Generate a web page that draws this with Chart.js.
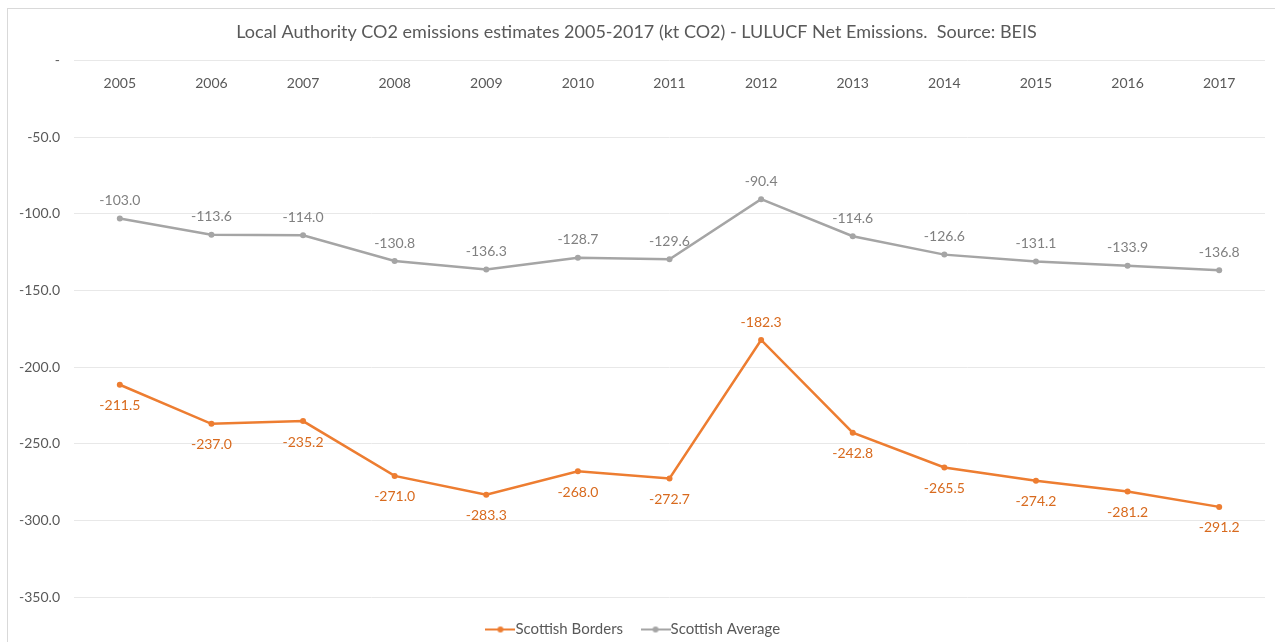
<!DOCTYPE html>
<html>
<head>
<meta charset="utf-8">
<script src="https://cdn.jsdelivr.net/npm/chart.js@4"></script>
<style>
  html, body { margin: 0; padding: 0; background: #fff; }
  #wrap { width: 1275px; height: 642px; }
</style>
</head>
<body>
<div id="wrap"><canvas id="co2Chart" width="1275" height="642"></canvas></div>
<script>
const years = ['2005','2006','2007','2008','2009','2010','2011','2012','2013','2014','2015','2016','2017'];
const bordersValues = [-211.5, -237.0, -235.2, -271.0, -283.3, -268.0, -272.7, -182.3, -242.8, -265.5, -274.2, -281.2, -291.2];
const averageValues = [-103.0, -113.6, -114.0, -130.8, -136.3, -128.7, -129.6, -90.4, -114.6, -126.6, -131.1, -133.9, -136.8];
const yTicks = [0, -50, -100, -150, -200, -250, -300, -350];

const orange = '#ED7D31';
const grey = '#A5A5A5';
const font = 'Lato, "Open Sans", sans-serif';

// legend marker: short line with a dot in the middle
function legendMarker(color){
    const c = document.createElement('canvas');
    c.width = 30; c.height = 10;
    const g = c.getContext('2d');
    g.strokeStyle = color; g.lineWidth = 2;
    g.beginPath(); g.moveTo(0, 5); g.lineTo(30, 5); g.stroke();
    g.fillStyle = color;
    g.beginPath(); g.arc(15, 5, 3, 0, Math.PI * 2); g.fill();
    return c;
}

// draws the value next to each point
const pointLabels = {
    id: 'pointLabels',
    afterDatasetsDraw(chart){
        const ctx = chart.ctx;
        ctx.save();
        ctx.font = '14px ' + font;
        ctx.textAlign = 'center';
        ctx.textBaseline = 'middle';
        chart.data.datasets.forEach((ds, i) => {
            const meta = chart.getDatasetMeta(i);
            const top = Math.max(...ds.data);
            meta.data.forEach((pt, j) => {
                const v = ds.data[j];
                // orange labels sit under the line, except at its peak
                const above = ds.labelSide === 'above' || v === top;
                ctx.fillStyle = ds.labelColor;
                ctx.fillText(v.toFixed(1), pt.x, above ? pt.y - 18 : pt.y + 21);
            });
        });
        ctx.restore();
    }
};

const outerBorder = {
    id: 'outerBorder',
    beforeDraw(chart){
        const ctx = chart.ctx;
        ctx.save();
        ctx.strokeStyle = '#d9d9d9';
        ctx.lineWidth = 1;
        ctx.strokeRect(7.5, 8.5, 1300, 700);
        ctx.restore();
    }
};

makeChart();

function makeChart(){
    const ctx = document.getElementById('co2Chart').getContext('2d');

    new Chart(ctx, {
        type: 'line',
        data: {
            labels: years,
            datasets: [{
                label: 'Scottish Borders',
                data: bordersValues,
                borderColor: orange,
                backgroundColor: orange,
                borderWidth: 2.5,
                pointRadius: 3,
                pointBorderWidth: 0,
                labelColor: '#D86A1E',
                labelSide: 'below',
                tension: 0
            }, {
                label: 'Scottish Average',
                data: averageValues,
                borderColor: grey,
                backgroundColor: grey,
                borderWidth: 2.5,
                pointRadius: 3,
                pointBorderWidth: 0,
                labelColor: '#808080',
                labelSide: 'above',
                tension: 0
            }]
        },
        options: {
            responsive: false,
            animation: false,
            layout: { padding: { left: 8, right: 10, top: 0, bottom: -5 } },
            plugins: {
                title: {
                    display: true,
                    text: 'Local Authority CO2 emissions estimates 2005-2017 (kt CO2) - LULUCF Net Emissions.  Source: BEIS',
                    color: '#595959',
                    font: { family: font, size: 18, weight: 'normal' },
                    padding: { top: 21, bottom: 18 }
                },
                legend: {
                    position: 'bottom',
                    labels: {
                        color: '#595959',
                        font: { family: font, size: 15 },
                        usePointStyle: true,
                        padding: 25,
                        generateLabels(chart){
                            return chart.data.datasets.map((ds, i) => ({
                                text: ds.label,
                                pointStyle: legendMarker(ds.borderColor),
                                fillStyle: ds.borderColor,
                                strokeStyle: ds.borderColor,
                                lineWidth: 0,
                                fontColor: '#595959',
                                datasetIndex: i
                            }));
                        }
                    }
                },
                tooltip: { enabled: false }
            },
            scales: {
                x: {
                    position: { y: 0 },
                    offset: true,
                    grid: { display: false },
                    border: { display: false },
                    ticks: {
                        color: '#595959',
                        font: { family: font, size: 14 },
                        padding: 6
                    }
                },
                y: {
                    min: -350,
                    max: 0,
                    afterFit(scale){ scale.width = 66; },
                    afterBuildTicks(scale){ scale.ticks = yTicks.map(v => ({ value: v })); },
                    grid: { color: '#e8e8e8', drawTicks: false },
                    border: { display: false },
                    ticks: {
                        color: '#595959',
                        font: { family: font, size: 14 },
                        padding: 14,
                        callback: v => v === 0 ? '-' : v.toFixed(1)
                    }
                }
            }
        },
        plugins: [pointLabels, outerBorder]
    });
}
</script>
</body>
</html>
